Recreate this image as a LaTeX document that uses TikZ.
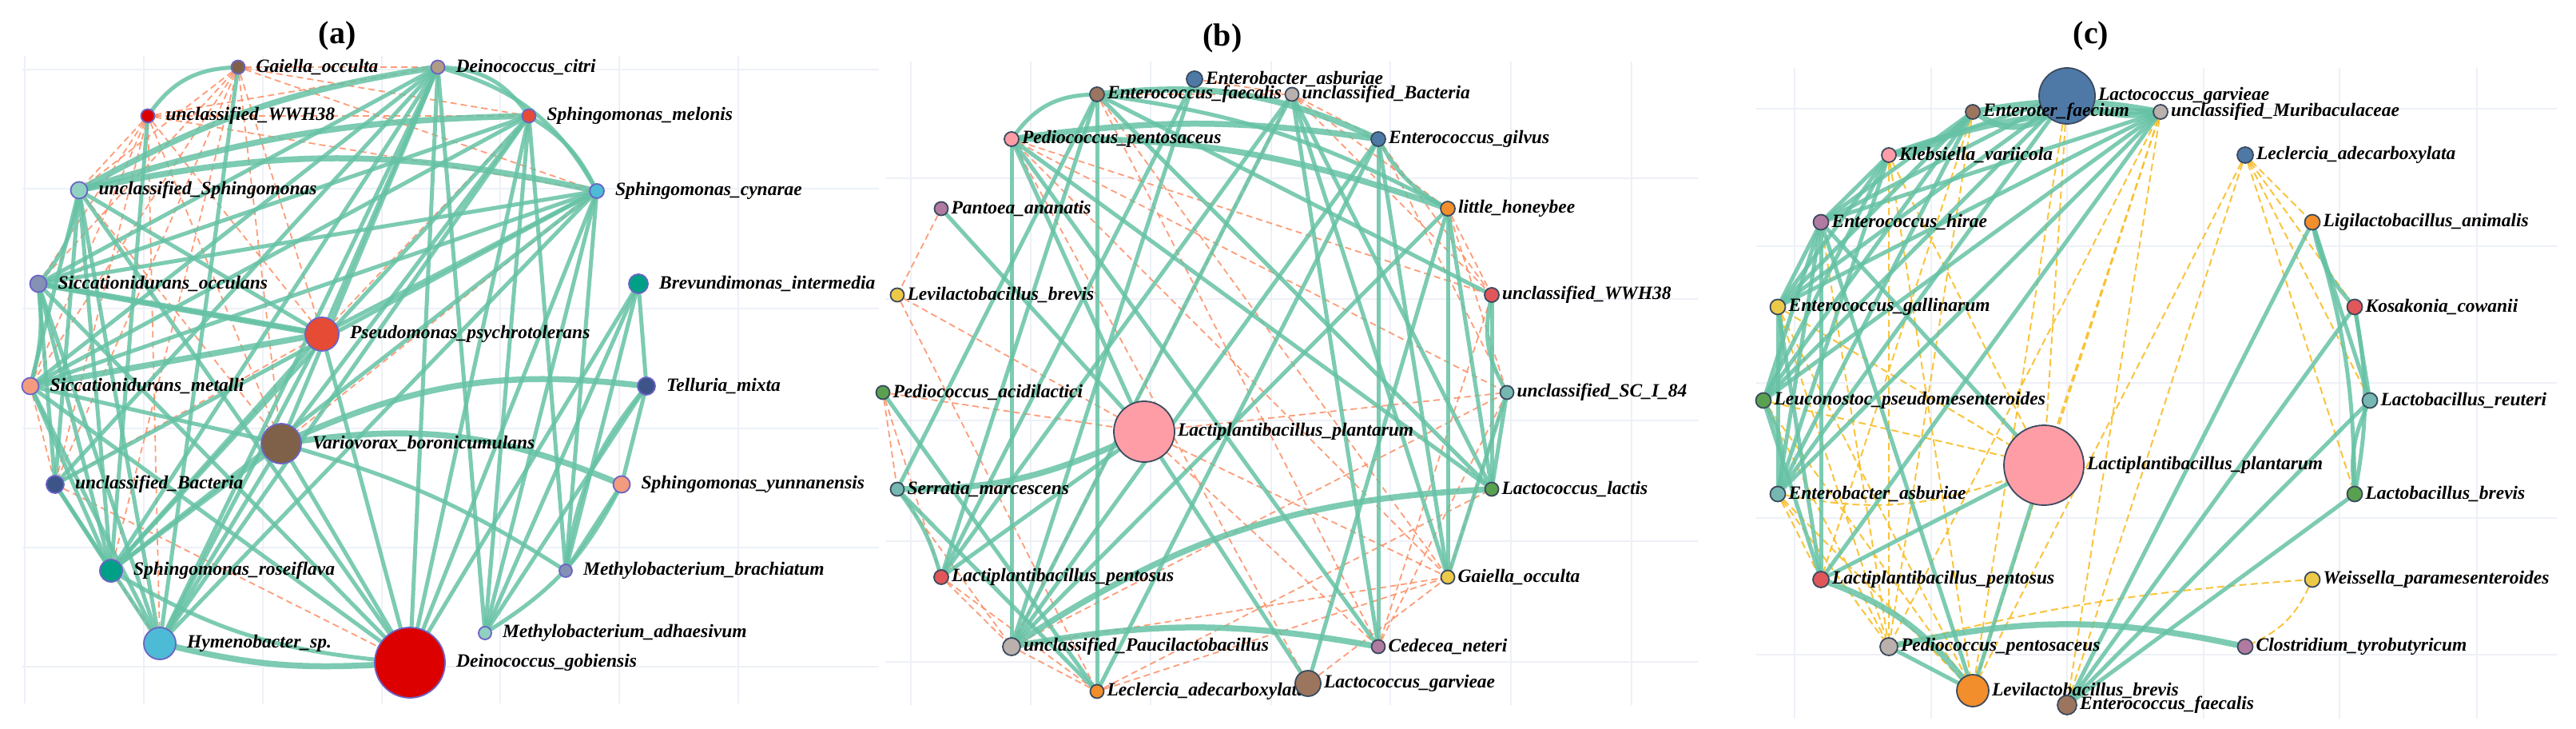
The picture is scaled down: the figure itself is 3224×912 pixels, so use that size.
\documentclass[tikz,border=0pt]{standalone}
\usepackage{fontspec}
\setmainfont{Liberation Serif}
\pgfdeclarelayer{gridlayer}
\pgfdeclarelayer{edgelayer}
\pgfsetlayers{gridlayer,edgelayer,main}
\definecolor{edgegreen}{HTML}{66C2A5}
\definecolor{dashorange}{HTML}{FC8D62}
\definecolor{dashgold}{HTML}{F9BE27}
\definecolor{gridgray}{HTML}{EDF0F7}
\definecolor{olA}{HTML}{6B63C6}
\definecolor{olB}{HTML}{3B4A5E}
% npg palette
\definecolor{nBrown}{HTML}{7E6148}
\definecolor{nTan}{HTML}{B09C85}
\definecolor{nRed}{HTML}{DC0000}
\definecolor{nOrange}{HTML}{E64B35}
\definecolor{nMint}{HTML}{91D1C2}
\definecolor{nCyan}{HTML}{4DBBD5}
\definecolor{nSlate}{HTML}{8491B4}
\definecolor{nTeal}{HTML}{00A087}
\definecolor{nSalmon}{HTML}{F39B7F}
\definecolor{nNavy}{HTML}{3C5488}
% tableau palette
\definecolor{tBlue}{HTML}{4E79A7}
\definecolor{tOrange}{HTML}{F28E2B}
\definecolor{tRed}{HTML}{E15759}
\definecolor{tTeal}{HTML}{76B7B2}
\definecolor{tGreen}{HTML}{59A14F}
\definecolor{tYellow}{HTML}{EDC948}
\definecolor{tPurple}{HTML}{B07AA1}
\definecolor{tPink}{HTML}{FF9DA7}
\definecolor{tBrown}{HTML}{9C755F}
\definecolor{tGray}{HTML}{BAB0AC}
\newcommand{\labfont}{\fontsize{23.5}{24}\selectfont\bfseries\itshape}
\newcommand{\ttlfont}{\fontsize{40}{40}\selectfont\bfseries}
\def\labgap{12pt}
\def\vtxline{olA}
\newcommand{\vtx}[6]{%
  \node[circle, inner sep=0pt, minimum size={2*#4 pt}, fill=#5, draw=\vtxline, line width=1.8pt] (#1) at (#2,#3) {};
  \node[lab] at ([xshift=\labgap]#1.east) {#6};
}
\tikzset{
  gline/.style={draw=edgegreen, line width=5pt, opacity=0.85, line cap=round},
  gthick/.style={gline, line width=7.5pt},
  dline/.style={draw=dashorange, line width=1.8pt, dash pattern=on 8pt off 5pt, opacity=0.85},
  yline/.style={draw=dashgold, line width=2pt, dash pattern=on 9pt off 5pt, opacity=0.9},
  vl/.style={bend right=#1},
  vr/.style={bend left=#1},
  gridln/.style={draw=gridgray, line width=1.6pt},
  lab/.style={font=\labfont, inner sep=0pt, anchor=west, text=black},
  ttl/.style={font=\ttlfont, inner sep=0pt},
}
\begin{document}
\begin{tikzpicture}[x=1pt,y=-1pt]
\useasboundingbox (0,0) rectangle (3224,912);
% ---------- background and grids ----------
\begin{pgfonlayer}{gridlayer}
\fill[white] (0,0) rectangle (3224,912);
\foreach \yy in {87,236,386,536,685,834} \draw[gridln] (28,\yy) -- (1100,\yy);
\foreach \xx in {31,180,329,478,626,775,924} \draw[gridln] (\xx,70) -- (\xx,880);
\foreach \yy in {223,374,526,677,828} \draw[gridln] (1108,\yy) -- (2125,\yy);
\foreach \xx in {1140,1290,1440,1591,1740,1891,2042} \draw[gridln] (\xx,77) -- (\xx,882);
\foreach \yy in {136,308,479,648,819} \draw[gridln] (2198,\yy) -- (3200,\yy);
\foreach \xx in {2246,2417,2587,2758,2928,3100} \draw[gridln] (\xx,85) -- (\xx,899);
\end{pgfonlayer}
% ---------- titles ----------
\node[ttl] (ta) at (422,45) {(a)};
\node[ttl] (tb) at (1530,48) {(b)};
\node[ttl] (tc) at (2617,45) {(c)};
% ================= panel (a) =================
\def\labgap{13pt}\def\vtxline{olA}
\vtx{agai}{298}{84}{8.5}{nBrown}{Gaiella\_occulta}
\vtx{adci}{548}{84}{8.5}{nTan}{Deinococcus\_citri}
\vtx{awwh}{185}{145}{8.5}{nRed}{unclassified\_WWH38}
\vtx{amel}{662}{145}{8.5}{nOrange}{Sphingomonas\_melonis}
\vtx{ausp}{99}{238}{10.5}{nMint}{unclassified\_Sphingomonas}
\vtx{acyn}{747}{239}{9}{nCyan}{Sphingomonas\_cynarae}
\vtx{asocc}{48}{355}{10.5}{nSlate}{Siccationidurans\_occulans}
\vtx{abrev}{799}{355}{12}{nTeal}{Brevundimonas\_intermedia}
\vtx{apse}{403}{418}{21}{nOrange}{Pseudomonas\_psychrotolerans}
\vtx{asmet}{38}{483}{10.5}{nSalmon}{Siccationidurans\_metalli}
\vtx{atel}{809}{483}{11}{nNavy}{Telluria\_mixta}
\vtx{avar}{352}{555}{25}{nBrown}{Variovorax\_boronicumulans}
\vtx{aubac}{69}{606}{11}{nNavy}{unclassified\_Bacteria}
\vtx{ayun}{778}{606}{10.5}{nSalmon}{Sphingomonas\_yunnanensis}
\vtx{aros}{139}{714}{14}{nTeal}{Sphingomonas\_roseiflava}
\vtx{ambr}{708}{714}{8}{nSlate}{Methylobacterium\_brachiatum}
\vtx{ahym}{200}{805}{20}{nCyan}{Hymenobacter\_sp.}
\vtx{amadh}{607}{792}{8}{nMint}{Methylobacterium\_adhaesivum}
\vtx{adgo}{513}{829}{44}{nRed}{Deinococcus\_gobiensis}
\begin{pgfonlayer}{edgelayer}
\foreach \p/\q in {gai/dci,gai/mel,gai/cyn,gai/usp,gai/socc,gai/smet,gai/ubac,gai/ros,gai/pse,gai/var,
  wwh/dci,wwh/mel,wwh/cyn,wwh/usp,wwh/socc,wwh/smet,wwh/ubac,wwh/var,wwh/hym,wwh/pse,
  smet/ubac,ubac/hym,ubac/dgo,ros/hym,cyn/var,mel/pse,ubac/pse,usp/var}
  \draw[dline] (a\p) -- (a\q);
\foreach \p/\q in {dci/socc,dci/smet,dci/ubac,dci/ros,dci/hym,dci/dgo,dci/var,dci/madh,dci/pse,
  mel/socc,mel/smet,mel/ros,mel/hym,mel/dgo,mel/madh,mel/mbr,mel/var,
  cyn/socc,cyn/smet,cyn/pse,cyn/ros,cyn/hym,cyn/dgo,cyn/madh,cyn/mbr,cyn/ubac,
  usp/smet,usp/ubac,usp/ros,usp/hym,usp/pse,usp/dgo,
  socc/pse,socc/ubac,socc/ros,socc/hym,socc/dgo,
  smet/ros,smet/hym,smet/dgo,smet/var,
  var/dgo,var/hym,var/ros,pse/hym,pse/ros,pse/dgo,
  brev/dgo,brev/tel,brev/madh,brev/mbr,gai/hym,wwh/ros,ubac/ros,ubac/hym,
  tel/madh,tel/yun,yun/mbr}
  \draw[gline] (a\p) -- (a\q);
\draw[gthick] (asmet) -- (apse);
\draw[gthick] (asocc) -- (apse);
\draw[gline,vl=25] (agai) to (awwh);
\draw[gline,vr=25] (adci) to (amel);
\draw[gline,vr=22] (adci) to (acyn);
\draw[gline,vr=15] (amel) to (acyn);
\draw[gthick,vr=12] (ausp) to (acyn);
\draw[gthick,vl=10] (adci) to (ausp);
\draw[gthick,vl=8] (amel) to (ausp);
\draw[gthick,vr=15] (avar) to (atel);
\draw[gthick,vr=15] (avar) to (ayun);
\draw[gline,vr=8] (avar) to (ambr);
\draw[gline,vl=12] (aros) to (adgo);
\draw[gthick,vl=8] (ahym) to (adgo);
\draw[gline,vr=15] (ayun) to (amadh);
\draw[gline,vl=15] (atel) to (ambr);
\draw[gline,vr=15] (ausp) to (asocc);
\draw[gline,vr=10] (asocc) to (asmet);
\end{pgfonlayer}
% ================= panel (b) =================
\def\labgap{3pt}\def\vtxline{olB}
\vtx{beba}{1495}{99}{10}{tBlue}{Enterobacter\_asburiae}
\vtx{befa}{1373}{118}{9}{tBrown}{Enterococcus\_faecalis}
\vtx{buba}{1617}{118}{8.5}{tGray}{unclassified\_Bacteria}
\vtx{bppe}{1266}{174}{9}{tPink}{Pediococcus\_pentosaceus}
\vtx{begi}{1725}{174}{9}{tBlue}{Enterococcus\_gilvus}
\vtx{bpan}{1178}{261}{8.5}{tPurple}{Pantoea\_ananatis}
\vtx{blho}{1812}{261}{9}{tOrange}{little\_honeybee}
\vtx{blbr}{1123}{369}{8.5}{tYellow}{Levilactobacillus\_brevis}
\vtx{bwwh}{1867}{369}{9}{tRed}{unclassified\_WWH38}
\vtx{bpac}{1105}{491}{8.5}{tGreen}{Pediococcus\_acidilactici}
\vtx{bsci}{1886}{491}{8.5}{tTeal}{unclassified\_SC\_I\_84}
\vtx{blpl}{1432}{540}{38}{tPink}{Lactiplantibacillus\_plantarum}
\vtx{bser}{1123}{612}{8.5}{tTeal}{Serratia\_marcescens}
\vtx{blla}{1867}{612}{8.5}{tGreen}{Lactococcus\_lactis}
\vtx{blpe}{1178}{722}{9}{tRed}{Lactiplantibacillus\_pentosus}
\vtx{bgao}{1812}{722}{8.5}{tYellow}{Gaiella\_occulta}
\vtx{bupa}{1266}{809}{11}{tGray}{unclassified\_Paucilactobacillus}
\vtx{bced}{1725}{809}{8.5}{tPurple}{Cedecea\_neteri}
\vtx{blec}{1373}{865}{8.5}{tOrange}{Leclercia\_adecarboxylata}
\vtx{blga}{1637}{855}{16}{tBrown}{Lactococcus\_garvieae}
\begin{pgfonlayer}{edgelayer}
\foreach \p/\q in {efa/uba,eba/uba,efa/ced,efa/gao,ppe/wwh,ppe/sci,ppe/gao,ppe/lga,
  uba/egi,uba/lho,uba/wwh,uba/upa,pan/lbr,lbr/lpl,lbr/lec,pac/lpl,pac/ser,pac/lpe,
  ser/upa,lpe/upa,lpe/lec,upa/gao,upa/sci,upa/lec,lec/gao,lec/lla,lga/gao,ced/sci,ced/wwh,
  gao/sci,egi/wwh,egi/sci,lho/wwh,lho/sci,lpl/gao,lpl/sci,lpl/ced}
  \draw[dline] (b\p) -- (b\q);
\foreach \p/\q in {efa/lec,efa/lla,efa/wwh,efa/lpe,eba/upa,eba/lpe,ser/efa,
  ppe/upa,ppe/lpl,ppe/ced,ppe/lla,pan/lpl,pac/lec,lpl/lpe,lpl/lga,
  lho/upa,lho/lga,lho/lla,lho/gao,egi/upa,egi/lec,egi/ced,egi/gao,
  uba/gao,uba/ced,uba/lla,uba/upa,lpe/uba,ser/lec,sci/gao,sci/lla,wwh/lla}
  \draw[gline] (b\p) -- (b\q);
\draw[gline,vl=25] (befa) to (bppe);
\draw[gthick,vr=15] (befa) to (begi);
\draw[gline,vr=10] (befa) to (blho);
\draw[gthick,vr=8] (bppe) to (begi);
\draw[gthick,vr=10] (bppe) to (blho);
\draw[gline,vl=15] (begi) to (blho);
\draw[gthick,vl=12] (bser) to (blpl);
\draw[gline,vr=10] (bser) to (blpe);
\draw[gthick,vr=10] (bupa) to (bced);
\draw[gthick,vr=15] (bupa) to (blla);
\draw[gline,vl=20] (bwwh) to (bsci);
\end{pgfonlayer}
% ================= panel (c) =================
\def\labgap{3pt}\def\vtxline{olB}
\vtx{clga}{2587}{120}{35}{tBlue}{Lactococcus\_garvieae}
\vtx{cefc}{2469}{140}{9}{tBrown}{Enteroter\_faecium}
\vtx{cumu}{2704}{140}{9}{tGray}{unclassified\_Muribaculaceae}
\vtx{ckle}{2364}{194}{9}{tPink}{Klebsiella\_variicola}
\vtx{clec}{2810}{194}{10}{tBlue}{Leclercia\_adecarboxylata}
\vtx{cehi}{2279}{278}{9.5}{tPurple}{Enterococcus\_hirae}
\vtx{clan}{2894}{278}{9.5}{tOrange}{Ligilactobacillus\_animalis}
\vtx{cega}{2225}{384}{9.5}{tYellow}{Enterococcus\_gallinarum}
\vtx{ckos}{2947}{384}{9.5}{tRed}{Kosakonia\_cowanii}
\vtx{cleu}{2207}{501}{9.5}{tGreen}{Leuconostoc\_pseudomesenteroides}
\vtx{clre}{2966}{501}{9.5}{tTeal}{Lactobacillus\_reuteri}
\vtx{clpl}{2558}{582}{50}{tPink}{Lactiplantibacillus\_plantarum}
\vtx{ceas}{2225}{618}{9.5}{tTeal}{Enterobacter\_asburiae}
\vtx{clbv}{2947}{618}{9.5}{tGreen}{Lactobacillus\_brevis}
\vtx{clpe}{2279}{725}{10}{tRed}{Lactiplantibacillus\_pentosus}
\vtx{cwei}{2894}{725}{9.5}{tYellow}{Weissella\_paramesenteroides}
\vtx{cppe}{2364}{809}{11}{tGray}{Pediococcus\_pentosaceus}
\vtx{cclo}{2810}{809}{9.5}{tPurple}{Clostridium\_tyrobutyricum}
\vtx{clev}{2469}{864}{20}{tOrange}{Levilactobacillus\_brevis}
\vtx{cefa}{2587}{882}{12}{tBrown}{Enterococcus\_faecalis}
\begin{pgfonlayer}{edgelayer}
\foreach \p/\q in {lec/lan,lec/kos,lec/lre,lec/lbv,lec/efa,lec/lev,
  umu/lpl,umu/lev,umu/ppe,umu/efa,lga/lev,lga/lpl,efc/lpe,efc/ppe,
  kle/lpl,kle/lev,kle/ppe,ehi/ppe,ega/lpl,ega/ppe,ega/lev,
  leu/lpl,leu/ppe,leu/lev,eas/ppe,eas/lev,eas/lpe}
  \draw[yline] (c\p) -- (c\q);
\draw[yline,vl=15] (ceas) to (clpl);
\draw[yline,vr=5] (cppe) to (cwei);
\draw[yline,vr=20] (cwei) to (cclo);
\foreach \p/\q in {lga/kle,lga/ehi,lga/ega,lga/leu,lga/eas,
  efc/ehi,efc/ega,efc/leu,efc/eas,
  umu/ehi,umu/ega,umu/leu,umu/eas,umu/lpe,
  kle/ehi,kle/ega,kle/leu,kle/eas,
  ehi/ega,ehi/leu,ehi/eas,ehi/lpl,ehi/lpe,ehi/lev,
  ega/eas,ega/lpe,leu/lpe,lpl/lpe,lpl/lev,ppe/lev,
  efa/lan,efa/kos,efa/lre,efa/lbv,lan/lre,kos/lre}
  \draw[gline] (c\p) -- (c\q);
\draw[gthick,vl=35] (cefc) to (clga);
\draw[gthick,vr=10] (cefc) to (cumu);
\draw[gthick,vl=10] (cumu) to (ckle);
\draw[gthick,vr=20] (cefc) to (ckle);
\draw[gthick,vl=15] (clga) to (cumu);
\draw[gline,vr=20] (cega) to (cleu);
\draw[gline,vr=20] (cleu) to (ceas);
\draw[gthick,vr=15] (clpe) to (clev);
\draw[gthick,vr=12] (cppe) to (cclo);
\draw[gline,vl=15] (clan) to (ckos);
\draw[gline,vl=15] (clre) to (clbv);
\draw[gline,vr=10] (ckos) to (clbv);
\draw[gline,vr=8] (clan) to (clbv);
\end{pgfonlayer}
\end{tikzpicture}
\end{document}
